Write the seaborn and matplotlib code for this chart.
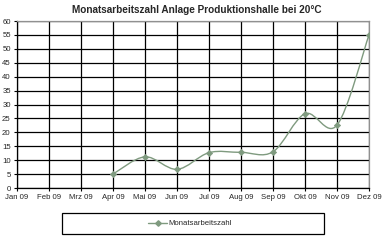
import numpy as np
import pandas as pd
import matplotlib
matplotlib.use("Agg")
import matplotlib.pyplot as plt
from matplotlib.path import Path
from matplotlib.patches import PathPatch, Rectangle
from matplotlib.lines import Line2D
import seaborn as sns

months = ["Jan 09", "Feb 09", "Mrz 09", "Apr 09", "Mai 09", "Jun 09",
          "Jul 09", "Aug 09", "Sep 09", "Okt 09", "Nov 09", "Dez 09"]
value_months = ["Apr 09", "Mai 09", "Jun 09", "Jul 09", "Aug 09",
                "Sep 09", "Okt 09", "Nov 09", "Dez 09"]
values = [5.0, 11.2, 6.7, 12.7, 12.8, 13.0, 26.7, 22.6, 55.0]
yticks = [0, 5, 10, 15, 20, 25, 30, 35, 40, 45, 50, 55, 60]
title = "Monatsarbeitszahl Anlage Produktionshalle bei 20°C"
series_name = "Monatsarbeitszahl"

sns.set_style("white")
plt.rcParams["font.family"] = ["Liberation Sans", "DejaVu Sans"]

line_color = "#7f9a7f"

df = pd.DataFrame({"x": [months.index(m) for m in value_months], "y": values})

fig = plt.figure(figsize=(3.87, 2.43), dpi=100)
ax = fig.add_axes([17 / 387, 1 - 188 / 243, (369 - 17) / 387, (188 - 21) / 243])

# smooth (spreadsheet "smoothed line") curve through the data points
xs = df["x"].to_numpy(float)
ys = df["y"].to_numpy(float)
verts = [(xs[0], ys[0])]
codes = [Path.MOVETO]
n = len(xs)
for i in range(n - 1):
    p0 = np.array([xs[max(i - 1, 0)], ys[max(i - 1, 0)]])
    p1 = np.array([xs[i], ys[i]])
    p2 = np.array([xs[i + 1], ys[i + 1]])
    p3 = np.array([xs[min(i + 2, n - 1)], ys[min(i + 2, n - 1)]])
    c1 = p1 + (p2 - p0) / 6.0
    c2 = p2 - (p3 - p1) / 6.0
    verts += [tuple(c1), tuple(c2), tuple(p2)]
    codes += [Path.CURVE4] * 3
ax.add_patch(PathPatch(Path(verts, codes), facecolor="none",
                       edgecolor=line_color, lw=1.0, zorder=3))

sns.scatterplot(data=df, x="x", y="y", ax=ax, marker="D", s=10,
                color=line_color, edgecolor=line_color, linewidth=0.5,
                zorder=4, legend=False)

ax.set_xlim(0, 11)
ax.set_ylim(0, 60)
ax.set_xticks(range(len(months)))
ax.set_xticklabels(months, fontsize=5.6)
ax.set_yticks(yticks)
ax.set_yticklabels([str(v) for v in yticks], fontsize=5.6)
ax.set_xlabel("")
ax.set_ylabel("")
ax.grid(True, color="black", lw=0.9)
ax.set_axisbelow(True)
ax.tick_params(axis="both", which="both", length=2.5, width=0.8, color="black",
               pad=2, direction="out")
ax.tick_params(axis="x", bottom=True)
ax.tick_params(axis="y", left=True)
for s in ["left", "bottom"]:
    ax.spines[s].set_color("black")
    ax.spines[s].set_linewidth(0.9)
for s in ["top", "right"]:
    ax.spines[s].set_color("#909090")
    ax.spines[s].set_linewidth(0.9)

fig.text(197 / 387, 1 - 10 / 243, title, ha="center",
         va="center", fontsize=7.2, fontweight="bold")

# legend frame (wide box like the reference)
fig.patches.append(Rectangle((62 / 387, 1 - 234 / 243), (324 - 62) / 387,
                             (234 - 213) / 243, transform=fig.transFigure,
                             facecolor="white", edgecolor="black", lw=0.9,
                             zorder=1))
handle = Line2D([0], [0], color=line_color, lw=1.0, marker="D", markersize=2.8,
                markerfacecolor=line_color, markeredgecolor=line_color)
leg = fig.legend([handle], [series_name], loc="center",
                 bbox_to_anchor=(190 / 387, 1 - 223.5 / 243), fontsize=5.6,
                 frameon=False, handlelength=2.5, handletextpad=0.2)
leg.set_zorder(2)

fig.savefig("out.png", dpi=100)
